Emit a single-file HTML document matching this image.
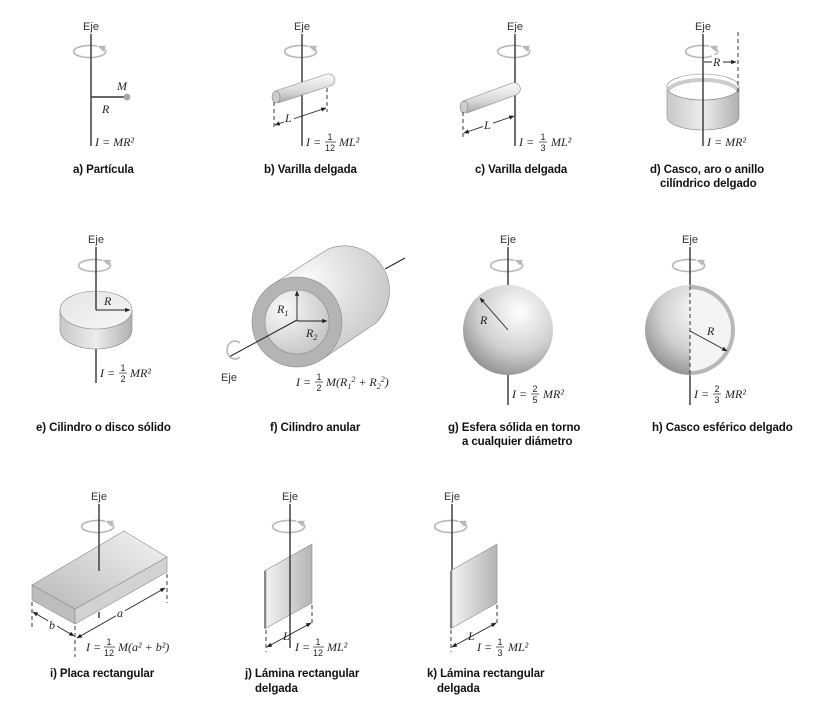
<!DOCTYPE html>
<html><head><meta charset="utf-8"><style>
html,body{margin:0;padding:0;background:#fff}
svg{display:block}
.eje{font:11px "Liberation Sans",sans-serif;fill:#333;text-anchor:middle}
.lb{font:bold 11.5px "Liberation Sans",sans-serif;fill:#111;letter-spacing:-0.1px}
.f{font:italic 12px "Liberation Serif",serif;fill:#222}
.fr{font:9px "Liberation Sans",sans-serif;fill:#222;text-anchor:middle}
.ax{stroke:#333;stroke-width:1.4;fill:none}
.rot{stroke:#b8b8b8;stroke-width:1.6;fill:none}
.dim{stroke:#222;stroke-width:0.9;fill:none}
.dsh{stroke:#222;stroke-width:0.9;stroke-dasharray:4,3;fill:none}
</style></head><body>
<svg width="840" height="708" viewBox="0 0 840 708" xmlns="http://www.w3.org/2000/svg">
<defs>
<marker id="ar" viewBox="0 0 10 10" refX="9" refY="5" markerWidth="6" markerHeight="6" orient="auto-start-reverse"><path d="M0,1 L10,5 L0,9 z" fill="#222"/></marker>
<marker id="ra" viewBox="0 0 10 10" refX="5" refY="5" markerWidth="5" markerHeight="5" orient="auto"><path d="M0,1 L10,5 L0,9 z" fill="#b8b8b8"/></marker>
<linearGradient id="rod" x1="0" y1="0" x2="0" y2="1"><stop offset="0" stop-color="#fafafa"/><stop offset="0.6" stop-color="#d8d8d8"/><stop offset="1" stop-color="#a8a8a8"/></linearGradient>
<linearGradient id="side" x1="0" y1="0" x2="1" y2="0"><stop offset="0" stop-color="#c8c8c8"/><stop offset="0.5" stop-color="#ececec"/><stop offset="1" stop-color="#b0b0b0"/></linearGradient>
<radialGradient id="sph" cx="0.62" cy="0.3" r="0.75"><stop offset="0" stop-color="#ffffff"/><stop offset="0.6" stop-color="#cfcfcf"/><stop offset="1" stop-color="#8f8f8f"/></radialGradient>
<linearGradient id="top" x1="0" y1="0" x2="1" y2="1"><stop offset="0" stop-color="#e4e4e4"/><stop offset="1" stop-color="#f7f7f7"/></linearGradient>
<linearGradient id="plate" x1="0" y1="1" x2="1" y2="0"><stop offset="0" stop-color="#b8b8b8"/><stop offset="1" stop-color="#f4f4f4"/></linearGradient>
<linearGradient id="sheet" x1="0" y1="0" x2="1" y2="0"><stop offset="0" stop-color="#f2f2f2"/><stop offset="1" stop-color="#b4b4b4"/></linearGradient>
<radialGradient id="cyl" cx="0.3" cy="0.3" r="0.9"><stop offset="0" stop-color="#fafafa"/><stop offset="1" stop-color="#bdbdbd"/></radialGradient>
<g id="rt"><path d="M6,-5.8 A16,6 0 1 0 10,-4.7" class="rot" marker-end="url(#ra)"/></g>
</defs>

<!-- a) -->
<text class="eje" x="91" y="30">Eje</text>
<use href="#rt" x="91" y="52"/>
<line class="ax" x1="91" y1="34" x2="91" y2="146"/>
<line class="ax" x1="91" y1="97" x2="126" y2="97"/>
<circle cx="127" cy="97" r="3.5" fill="#aaa"/>
<text class="f" x="117" y="90">M</text>
<text class="f" x="102" y="113">R</text>
<text class="f" x="95" y="146">I = MR²</text>
<text class="lb" x="73" y="173">a) Partícula</text>

<!-- b) -->
<text class="eje" x="302" y="30">Eje</text>
<use href="#rt" x="302" y="52"/>
<line class="ax" x1="302" y1="34" x2="302" y2="146"/>
<path d="M275,91 L327,74 A6,6 0 0 1 330,86 L278,103 Z" fill="url(#rod)" stroke="#888" stroke-width="0.6"/>
<ellipse cx="276" cy="97" rx="4" ry="6" fill="#ccc" stroke="#888" stroke-width="0.6"/>
<line class="dsh" x1="274" y1="102" x2="274" y2="130"/>
<line class="dsh" x1="327" y1="88" x2="327" y2="112"/>
<line class="dim" x1="275" y1="125" x2="326" y2="108" marker-start="url(#ar)" marker-end="url(#ar)"/>
<rect x="284" y="111" width="10" height="12" fill="#fff"/>
<text class="f" x="285" y="122">L</text>
<text class="f" x="306" y="146">I =</text>
<text class="fr" x="330" y="140">1</text><line x1="325" y1="142" x2="336" y2="142" stroke="#222" stroke-width="0.7"/><text class="fr" x="330" y="151">12</text>
<text class="f" x="339" y="146">ML²</text>
<text class="lb" x="264" y="173">b) Varilla delgada</text>

<!-- c) -->
<text class="eje" x="515" y="30">Eje</text>
<use href="#rt" x="515" y="52"/>
<line class="ax" x1="515" y1="34" x2="515" y2="146"/>
<path d="M463,101 L512,83 A6,6 0 0 1 516,95 L467,113 Z" fill="url(#rod)" stroke="#888" stroke-width="0.6"/>
<ellipse cx="464" cy="107" rx="4" ry="6" fill="#ccc" stroke="#888" stroke-width="0.6"/>
<line class="dsh" x1="463" y1="112" x2="463" y2="138"/>
<line class="dim" x1="464" y1="133" x2="514" y2="116" marker-start="url(#ar)" marker-end="url(#ar)"/>
<rect x="483" y="118" width="10" height="12" fill="#fff"/>
<text class="f" x="484" y="129">L</text>
<text class="f" x="519" y="146">I =</text>
<text class="fr" x="543" y="140">1</text><line x1="539" y1="142" x2="547" y2="142" stroke="#222" stroke-width="0.7"/><text class="fr" x="543" y="151">3</text>
<text class="f" x="551" y="146">ML²</text>
<text class="lb" x="475" y="173">c) Varilla delgada</text>

<!-- d) -->
<text class="eje" x="703" y="30">Eje</text>
<use href="#rt" x="703" y="52"/>
<path d="M667,87 L667,117 A36,13 0 0 0 739,117 L739,87 A36,13 0 0 1 667,87 Z" fill="url(#side)" stroke="#888" stroke-width="0.6"/>
<ellipse cx="703" cy="87" rx="36" ry="13" fill="#fff" stroke="#888" stroke-width="0.6"/>
<path d="M668,90 A36,13 0 0 1 738,90" fill="none" stroke="#ccc" stroke-width="4"/>
<line class="ax" x1="703" y1="34" x2="703" y2="146"/>
<line class="dsh" x1="738" y1="32" x2="738" y2="92"/>
<line class="dim" x1="704" y1="62" x2="736" y2="62" marker-end="url(#ar)"/>
<rect x="712" y="55" width="11" height="13" fill="#fff"/>
<text class="f" x="713" y="66">R</text>
<text class="f" x="707" y="146">I = MR²</text>
<text class="lb" x="650" y="173">d) Casco, aro o anillo</text>
<text class="lb" x="660" y="187">cilíndrico delgado</text>

<!-- e) -->
<text class="eje" x="96" y="243">Eje</text>
<use href="#rt" x="96" y="266"/>
<line class="ax" x1="96" y1="247" x2="96" y2="310"/>
<path d="M60,310 L60,330 A36,19 0 0 0 132,330 L132,310 Z" fill="url(#side)" stroke="#888" stroke-width="0.6"/>
<ellipse cx="96" cy="310" rx="36" ry="19" fill="url(#top)" stroke="#888" stroke-width="0.6"/>
<line class="ax" x1="96" y1="291" x2="96" y2="310"/>
<line class="dim" x1="96" y1="310" x2="130" y2="310" marker-end="url(#ar)"/>
<text class="f" x="104" y="305">R</text>
<line class="ax" x1="96" y1="349" x2="96" y2="383"/>
<text class="f" x="100" y="377">I =</text>
<text class="fr" x="123" y="371">1</text><line x1="119" y1="373" x2="127" y2="373" stroke="#222" stroke-width="0.7"/><text class="fr" x="123" y="382">2</text>
<text class="f" x="130" y="377">MR²</text>
<text class="lb" x="36" y="431">e) Cilindro o disco sólido</text>

<!-- f) -->
<line x1="385" y1="269" x2="405" y2="258" stroke="#222" stroke-width="1"/>
<path d="M273,284 L328,249 A45,45 0 0 1 376,323 L321,360 Z" fill="url(#cyl)" stroke="#888" stroke-width="0.6"/>
<circle cx="297" cy="322" r="45" fill="#b4b4b4" stroke="#888" stroke-width="0.6"/>
<circle cx="297" cy="322" r="32" fill="url(#cyl)" stroke="#888" stroke-width="0.6"/>
<line x1="229" y1="357" x2="297" y2="320" stroke="#222" stroke-width="1"/>
<line class="dim" x1="297" y1="321" x2="297" y2="291" marker-end="url(#ar)"/>
<line class="dim" x1="297" y1="321" x2="327" y2="321" marker-end="url(#ar)"/>
<text class="f" x="277" y="313">R<tspan font-size="8" dy="3">1</tspan></text>
<text class="f" x="306" y="337">R<tspan font-size="8" dy="3">2</tspan></text>
<path d="M240,343 A8,9 0 1 0 240,357" class="rot"/>
<text class="eje" x="229" y="381">Eje</text>
<text class="f" x="296" y="386">I =</text>
<text class="fr" x="319" y="380">1</text><line x1="315" y1="382" x2="323" y2="382" stroke="#222" stroke-width="0.7"/><text class="fr" x="319" y="391">2</text>
<text class="f" x="326" y="386">M(R<tspan font-size="8" dy="3">1</tspan><tspan dy="-7" font-size="8">2</tspan><tspan dy="4"> + R</tspan><tspan font-size="8" dy="3">2</tspan><tspan dy="-7" font-size="8">2</tspan><tspan dy="4">)</tspan></text>
<text class="lb" x="270" y="431">f) Cilindro anular</text>

<!-- g) -->
<text class="eje" x="508" y="243">Eje</text>
<use href="#rt" x="508" y="266"/>
<line class="ax" x1="508" y1="247" x2="508" y2="286"/>
<circle cx="508" cy="330" r="45" fill="url(#sph)"/>
<line class="dim" x1="508" y1="330" x2="480" y2="298" marker-end="url(#ar)"/>
<text class="f" x="480" y="324">R</text>
<line class="ax" x1="508" y1="375" x2="508" y2="405"/>
<text class="f" x="512" y="398">I =</text>
<text class="fr" x="535" y="392">2</text><line x1="531" y1="394" x2="539" y2="394" stroke="#222" stroke-width="0.7"/><text class="fr" x="535" y="403">5</text>
<text class="f" x="543" y="398">MR²</text>
<text class="lb" x="448" y="431">g) Esfera sólida en torno</text>
<text class="lb" x="462" y="445">a cualquier diámetro</text>

<!-- h) -->
<text class="eje" x="690" y="243">Eje</text>
<use href="#rt" x="690" y="266"/>
<line class="ax" x1="690" y1="247" x2="690" y2="286"/>
<circle cx="690" cy="330" r="45" fill="url(#sph)"/>
<path d="M690,285 A45,45 0 0 1 690,375 Z" fill="#b8b8b8"/>
<path d="M690,289 A41,41 0 0 1 690,371 Z" fill="#f4f4f4"/>
<line class="dsh" x1="690" y1="286" x2="690" y2="375"/>
<line class="dim" x1="690" y1="331" x2="727" y2="351" marker-end="url(#ar)"/>
<text class="f" x="707" y="335">R</text>
<line class="ax" x1="690" y1="375" x2="690" y2="405"/>
<text class="f" x="694" y="398">I =</text>
<text class="fr" x="717" y="392">2</text><line x1="713" y1="394" x2="721" y2="394" stroke="#222" stroke-width="0.7"/><text class="fr" x="717" y="403">3</text>
<text class="f" x="725" y="398">MR²</text>
<text class="lb" x="652" y="431">h) Casco esférico delgado</text>

<!-- i) -->
<text class="eje" x="99" y="500">Eje</text>
<use href="#rt" x="99" y="527"/>
<path d="M32,585 L75,609 L75,624 L32,600 Z" fill="#bdbdbd" stroke="#888" stroke-width="0.6"/>
<path d="M75,609 L167,557 L167,572 L75,624 Z" fill="#d2d2d2" stroke="#888" stroke-width="0.6"/>
<path d="M32,585 L124,531 L167,557 L75,609 Z" fill="url(#plate)" stroke="#888" stroke-width="0.6"/>
<line class="ax" x1="99" y1="504" x2="99" y2="571"/>
<line class="ax" x1="99" y1="612" x2="99" y2="618"/>
<line class="dsh" x1="32" y1="602" x2="32" y2="630"/>
<line class="dsh" x1="75" y1="626" x2="75" y2="657"/>
<line class="dsh" x1="167" y1="574" x2="167" y2="603"/>
<line class="dim" x1="77" y1="638" x2="165" y2="588" marker-start="url(#ar)" marker-end="url(#ar)"/>
<rect x="116" y="606" width="9" height="12" fill="#fff"/>
<text class="f" x="117" y="617">a</text>
<line class="dim" x1="33" y1="612" x2="74" y2="636" marker-start="url(#ar)" marker-end="url(#ar)"/>
<rect x="48" y="618" width="9" height="12" fill="#fff"/>
<text class="f" x="49" y="629">b</text>
<text class="f" x="86" y="651">I =</text>
<text class="fr" x="109" y="645">1</text><line x1="104" y1="647" x2="115" y2="647" stroke="#222" stroke-width="0.7"/><text class="fr" x="109" y="656">12</text>
<text class="f" x="118" y="651">M(a² + b²)</text>
<text class="lb" x="50" y="677">i) Placa rectangular</text>

<!-- j) -->
<text class="eje" x="290" y="500">Eje</text>
<use href="#rt" x="290" y="527"/>
<path d="M266,570 L312,544 L312,603 L266,628 Z" fill="url(#sheet)" stroke="#888" stroke-width="0.6"/>
<path d="M264,571 L266,570 L266,628 L264,629 Z" fill="#888"/>
<line class="ax" x1="290" y1="504" x2="290" y2="648"/>
<line class="dsh" x1="266" y1="630" x2="266" y2="652"/>
<line class="dsh" x1="312" y1="605" x2="312" y2="626"/>
<line class="dim" x1="267" y1="647" x2="311" y2="623" marker-start="url(#ar)" marker-end="url(#ar)"/>
<text class="f" x="283" y="640">L</text>
<text class="f" x="295" y="651">I =</text>
<text class="fr" x="318" y="645">1</text><line x1="313" y1="647" x2="324" y2="647" stroke="#222" stroke-width="0.7"/><text class="fr" x="318" y="656">12</text>
<text class="f" x="327" y="651">ML²</text>
<text class="lb" x="245" y="677">j) Lámina rectangular</text>
<text class="lb" x="255" y="692">delgada</text>

<!-- k) -->
<text class="eje" x="452" y="500">Eje</text>
<use href="#rt" x="452" y="527"/>
<line class="ax" x1="452" y1="504" x2="452" y2="570"/>
<path d="M452,570 L497,544 L497,603 L452,628 Z" fill="url(#sheet)" stroke="#888" stroke-width="0.6"/>
<path d="M450,571 L452,570 L452,628 L450,629 Z" fill="#888"/>
<line class="dsh" x1="451" y1="630" x2="451" y2="652"/>
<line class="dsh" x1="497" y1="605" x2="497" y2="626"/>
<line class="dim" x1="452" y1="647" x2="496" y2="623" marker-start="url(#ar)" marker-end="url(#ar)"/>
<text class="f" x="468" y="640">L</text>
<text class="f" x="477" y="651">I =</text>
<text class="fr" x="500" y="645">1</text><line x1="496" y1="647" x2="504" y2="647" stroke="#222" stroke-width="0.7"/><text class="fr" x="500" y="656">3</text>
<text class="f" x="508" y="651">ML²</text>
<text class="lb" x="427" y="677">k) Lámina rectangular</text>
<text class="lb" x="437" y="692">delgada</text>
</svg>
</body></html>
